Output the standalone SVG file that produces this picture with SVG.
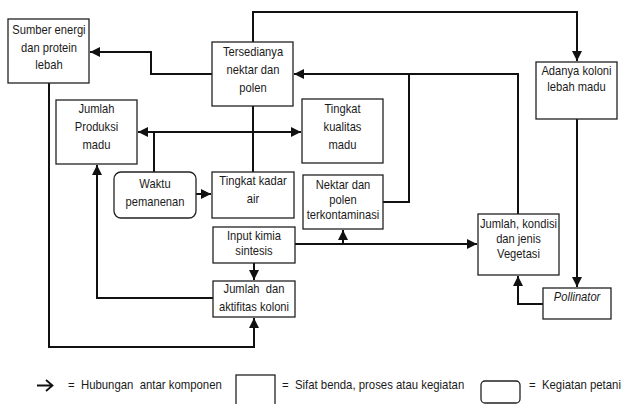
<svg xmlns="http://www.w3.org/2000/svg" width="624" height="404" viewBox="0 0 624 404">
<defs>
<marker id="ah" viewBox="0 0 10 10" refX="10" refY="5" markerWidth="5" markerHeight="5" orient="auto-start-reverse" markerUnits="strokeWidth">
<path d="M0,0 L10,5 L0,10 z" fill="#111"/>
</marker>
</defs>
<style>
.box{fill:#fff;stroke:#222;stroke-width:1.3}
.t{font-family:"Liberation Sans",Arial,sans-serif;font-size:13px;fill:#1a1a1a;text-anchor:middle;transform-box:fill-box;transform-origin:center;transform:scaleX(0.86)}
.lg{font-family:"Liberation Sans",Arial,sans-serif;font-size:12.5px;fill:#1a1a1a;transform-box:fill-box;transform-origin:left center;transform:scaleX(0.91)}
.c{fill:none;stroke:#111;stroke-width:2}
.ca{fill:none;stroke:#111;stroke-width:2;marker-end:url(#ah)}
</style>
<rect width="624" height="404" fill="#fff"/>
<g id="connectors">
<path class="ca" d="M212,74 H151 V52 H90"/>
<path class="ca" d="M253,42 V12 H577 V61"/>
<path class="ca" d="M138,132 H301" marker-start="url(#ah)"/>
<path class="c" d="M154,172 V132"/>
<path class="c" d="M253,106 V172"/>
<path class="ca" d="M196,194 H211"/>
<path class="ca" d="M254,263 V280"/>
<path class="ca" d="M213,298 H97 V165"/>
<path class="ca" d="M49,83 V347 H254 V318"/>
<path class="ca" d="M295,244 H477"/>
<path class="ca" d="M343,244 V230"/>
<path class="c" d="M383,202 H409 V74"/>
<path class="ca" d="M518,214 V74 H294"/>
<path class="ca" d="M577,119 V287"/>
<path class="ca" d="M543,304 H518 V276"/>
</g>
<g id="sumber">
<rect class="box" x="8" y="19" width="81" height="64"/>
<text class="t" x="49" y="34">Sumber energi</text>
<text class="t" x="49" y="52">dan protein</text>
<text class="t" x="49" y="69">lebah</text>
</g>
<g id="tersedianya">
<rect class="box" x="212" y="42" width="81" height="64"/>
<text class="t" x="253" y="56">Tersedianya</text>
<text class="t" x="253" y="74">nektar dan</text>
<text class="t" x="253" y="92">polen</text>
</g>
<g id="jumlah-produksi">
<rect class="box" x="56" y="100" width="81" height="64"/>
<text class="t" x="96.5" y="113">Jumlah</text>
<text class="t" x="96.5" y="131">Produksi</text>
<text class="t" x="96.5" y="149">madu</text>
</g>
<g id="tingkat-kualitas">
<rect class="box" x="302" y="99" width="81" height="64"/>
<text class="t" x="342.5" y="113">Tingkat</text>
<text class="t" x="342.5" y="131">kualitas</text>
<text class="t" x="342.5" y="149">madu</text>
</g>
<g id="waktu">
<rect class="box" x="114" y="172" width="82" height="46" rx="7"/>
<text class="t" x="155" y="188">Waktu</text>
<text class="t" x="155" y="206">pemanenan</text>
</g>
<g id="tingkat-kadar">
<rect class="box" x="212" y="172" width="82" height="46"/>
<text class="t" x="253" y="185">Tingkat kadar</text>
<text class="t" x="253" y="203">air</text>
</g>
<g id="nektar">
<rect class="box" x="303" y="175" width="80" height="54"/>
<text class="t" x="343" y="189">Nektar dan</text>
<text class="t" x="343" y="204">polen</text>
<text class="t" x="343" y="219">terkontaminasi</text>
</g>
<g id="input-kimia">
<rect class="box" x="213" y="227" width="82" height="36"/>
<text class="t" x="254" y="240">Input kimia</text>
<text class="t" x="254" y="255">sintesis</text>
</g>
<g id="jumlah-aktifitas">
<rect class="box" x="213" y="281" width="82" height="36"/>
<text class="t" x="254" y="293" xml:space="preserve">Jumlah  dan</text>
<text class="t" x="254" y="311">aktifitas koloni</text>
</g>
<g id="vegetasi">
<rect class="box" x="478" y="214" width="81" height="61"/>
<text class="t" x="518.5" y="228">Jumlah, kondisi</text>
<text class="t" x="518.5" y="243">dan jenis</text>
<text class="t" x="518.5" y="258">Vegetasi</text>
</g>
<g id="adanya-koloni">
<rect class="box" x="536" y="62" width="81" height="57"/>
<text class="t" x="576.5" y="75">Adanya koloni</text>
<text class="t" x="576.5" y="91">lebah madu</text>
</g>
<g id="pollinator">
<rect class="box" x="543" y="288" width="68" height="31"/>
<text class="t" x="577" y="301" font-style="italic" fill="#2a2a44">Pollinator</text>
</g>
<g id="legend">
<path d="M37,385.5 H52 M46,380 L52.5,385.5 L46,391" fill="none" stroke="#111" stroke-width="1.8"/>
<text class="lg" x="68" y="389" xml:space="preserve">=  Hubungan  antar komponen</text>
<rect class="box" x="236" y="375" width="39" height="32"/>
<text class="lg" x="282" y="389" xml:space="preserve">=  Sifat benda, proses atau kegiatan</text>
<rect class="box" x="481" y="381" width="39" height="22" rx="4"/>
<text class="lg" x="529" y="389" xml:space="preserve">=  Kegiatan petani</text>
</g>
</svg>
